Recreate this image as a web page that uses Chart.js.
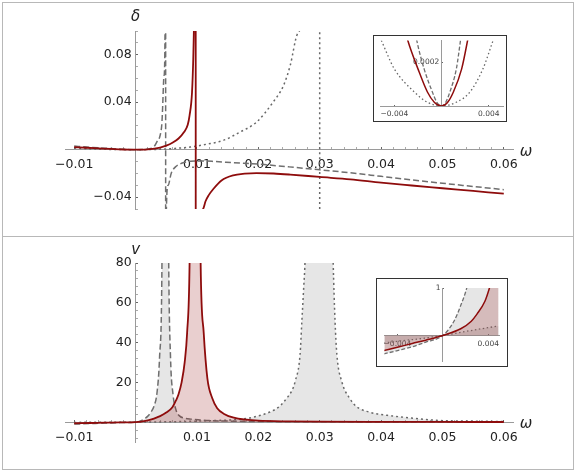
<!DOCTYPE html>
<html>
<head>
<meta charset="utf-8">
<script src="https://cdn.jsdelivr.net/npm/chart.js@4.4.1/dist/chart.umd.min.js"></script>
<style>
  body { margin: 0; background: #fff; }
  #frame { position: absolute; left: 2px; top: 2px; width: 570px; height: 466px; border: 1px solid #b8b8b8; }
  #divider { position: absolute; left: 2px; top: 236px; width: 572px; height: 0; border-top: 1px solid #b8b8b8; }
  .box { position: absolute; }
  .inset { position: absolute; background: #fff; border: 1px solid #333; }
</style>
</head>
<body>
<div id="frame"></div>
<div id="divider"></div>
<div class="box" style="left:3px;top:3px"><canvas id="deltaChart" width="570" height="233"></canvas></div>
<div class="box" style="left:3px;top:237px"><canvas id="nuChart" width="570" height="233"></canvas></div>
<div class="inset" style="left:373px;top:35px;width:132px;height:85px"><canvas id="deltaInset" width="132" height="85"></canvas></div>
<div class="inset" style="left:376px;top:278px;width:130px;height:87px"><canvas id="nuInset" width="130" height="87"></canvas></div>
<script>
// ---------- top panel: delta(omega) ----------
const omegaRedD   = [-0.01, -0.008, -0.006, -0.004, -0.002, 0, 0.002, 0.004, 0.005, 0.006, 0.007, 0.0079, 0.0085, 0.0088, 0.0092, 0.0094, 0.0095, 0.0096, 0.00979, 0.00981, 0.0106, 0.011, 0.0114, 0.0119, 0.0127, 0.014, 0.0159, 0.0178, 0.0197, 0.0225, 0.0252, 0.03, 0.035, 0.04, 0.045, 0.05, 0.055, 0.06];
const deltaRed    = [0.0022, 0.0016, 0.0011, 0.0006, 0.00015, 0, 0.0003, 0.0018, 0.0034, 0.0058, 0.0094, 0.0148, 0.021, 0.0289, 0.0485, 0.0766, 0.1, 0.2, 3, -3, -0.08, -0.05, -0.0435, -0.0385, -0.0329, -0.0259, -0.0216, -0.0202, -0.0197, -0.0201, -0.021, -0.023, -0.025, -0.0278, -0.0302, -0.0325, -0.0348, -0.0371];
const omegaDashD  = [-0.01, -0.008, -0.006, -0.004, -0.002, 0, 0.001, 0.002, 0.003, 0.00345, 0.004, 0.0043, 0.0044, 0.00464, 0.0048, 0.00489, 0.00491, 0.00502, 0.0053, 0.0058, 0.0065, 0.0075, 0.009, 0.011, 0.013, 0.016, 0.02, 0.025, 0.03, 0.035, 0.04, 0.045, 0.05, 0.055, 0.06];
const deltaDash   = [0.003, 0.0022, 0.0015, 0.001, 0.00027, 0, 0.0001, 0.0006, 0.0025, 0.0064, 0.012, 0.0232, 0.0345, 0.0626, 0.1, 3, -3, -0.05, -0.03, -0.02, -0.0145, -0.0115, -0.0098, -0.0095, -0.01, -0.011, -0.0122, -0.0145, -0.017, -0.0195, -0.0225, -0.0255, -0.0283, -0.031, -0.0337];
const omegaDotD   = [-0.01, -0.008, -0.006, -0.004, -0.002, 0, 0.002, 0.004, 0.006, 0.0089, 0.0115, 0.0143, 0.017, 0.0197, 0.0224, 0.0241, 0.0252, 0.0264, 0.0275, 0.02999, 0.03001];
const deltaDot    = [0.0013, 0.0008, 0.00045, 0.00018, 0.00005, 0, 0.00007, 0.0003, 0.0009, 0.0022, 0.0045, 0.0078, 0.0148, 0.0232, 0.04, 0.054, 0.071, 0.0977, 0.15, 3, -3];

// top inset (zoom near omega = 0)
const omegaRedDi  = [-0.0032, -0.00286, -0.002, -0.0012, -0.0006, 0, 0.0005, 0.001, 0.0017, 0.0022, 0.0024];
const deltaRedI   = [0.00037, 0.0003, 0.00017, 0.000064, 0.000016, 0, 0.000016, 0.000064, 0.00017, 0.0003, 0.00036];
const omegaDashDi = [-0.0023, -0.0021, -0.00148, -0.00078, -0.0004, 0, 0.00035, 0.0007, 0.00125, 0.0016, 0.0018];
const deltaDashI  = [0.00036, 0.0003, 0.00017, 0.000064, 0.000017, 0, 0.000017, 0.000064, 0.00017, 0.0003, 0.00038];
const omegaDotDi  = [-0.0051, -0.004, -0.0023, -0.0012, 0, 0.0012, 0.0024, 0.0035, 0.00436];
const deltaDotI   = [0.0003, 0.00017, 0.000064, 0.000017, 0, 0.000016, 0.000064, 0.00017, 0.0003];

// ---------- bottom panel: v(omega) ----------
const omegaRedV   = [-0.01, -0.0075, -0.005, -0.0025, 0, 0.002, 0.003, 0.004, 0.005, 0.006, 0.0066, 0.007, 0.0075, 0.008, 0.0084, 0.0088, 0.0097, 0.0106, 0.0111, 0.0117, 0.0125, 0.0133, 0.0145, 0.016, 0.018, 0.02, 0.025, 0.03, 0.04, 0.05, 0.06];
const nuRed       = [-0.6, -0.45, -0.3, -0.15, 0, 0.9, 1.8, 3, 4.8, 7.5, 11, 14, 20, 30, 45, 80, 400, 80, 45, 22, 12, 7, 4, 2.2, 1.2, 0.7, 0.35, 0.2, 0.1, 0.07, 0.05];
const omegaDashV  = [-0.01, -0.0075, -0.005, -0.0025, 0, 0.001, 0.002, 0.0025, 0.003, 0.0035, 0.0039, 0.0043, 0.0048, 0.0054, 0.0057, 0.0061, 0.0066, 0.0072, 0.008, 0.009, 0.0105, 0.012, 0.015, 0.02, 0.03, 0.04, 0.05, 0.06];
const nuDash      = [-1.0, -0.75, -0.5, -0.25, 0, 0.9, 3, 5, 8, 15, 32, 80, 400, 80, 32, 14, 6, 3, 2, 1.5, 1.1, 0.8, 0.5, 0.3, 0.15, 0.1, 0.07, 0.05];
const omegaDotV   = [-0.01, -0.005, 0, 0.005, 0.01, 0.0135, 0.0165, 0.0192, 0.0219, 0.0235, 0.0246, 0.0255, 0.026, 0.0268, 0.0271, 0.0274, 0.0276, 0.0299, 0.0322, 0.0325, 0.0328, 0.0336, 0.0349, 0.036, 0.038, 0.041, 0.0436, 0.049, 0.055, 0.06];
const nuDot       = [-0.15, -0.07, 0, 0.15, 0.5, 0.85, 1.3, 2.5, 5.1, 8, 11.9, 16, 20.4, 33.9, 50.9, 68, 80, 400, 80, 51, 34, 20.4, 11.9, 7.8, 5.1, 3.4, 2.5, 0.9, 0.5, 0.3];

// bottom inset (zoom near omega = 0)
const omegaRedVi  = [-0.0052, -0.004, -0.0027, -0.0015, 0, 0.00157, 0.0025, 0.003, 0.0037, 0.0041, 0.0049];
const nuRedI      = [-0.32, -0.25, -0.17, -0.1, 0, 0.14, 0.3, 0.45, 0.72, 1.0, 1.7];
const omegaDashVi = [-0.0052, -0.004, -0.0027, -0.0015, 0, 0.001, 0.0016, 0.0021, 0.003, 0.0049];
const nuDashI     = [-0.39, -0.32, -0.24, -0.14, 0, 0.31, 0.65, 1.0, 2, 5];
const omegaDotVi  = [-0.0052, -0.0035, -0.002, 0, 0.0024, 0.0049];
const nuDotI      = [-0.16, -0.11, -0.07, 0, 0.1, 0.2];

const RED = '#8e0c0c';
const DASH_GRAY = '#6f6f6f';
const DOT_GRAY = '#686868';
const RED_FILL = 'rgba(150,30,30,0.21)';
const GRAY_FILL = 'rgba(150,150,150,0.24)';
const FONT = 'DejaVu Sans';

const pts = (xs, ys) => xs.map((x, i) => ({x: x, y: ys[i]}));
const isMult = (v, step) => Math.abs(v / step - Math.round(v / step)) < 1e-6;
const fmt = (v, dec) => (v < 0 ? '\u2212' : '') + Math.abs(v).toFixed(dec);

// axis names: delta / v on top of the y axis, omega at the end of the x axis
const axisNames = {
    id: 'axisNames',
    afterDraw(chart, args, opts) {
        if (!opts.yName) return;
        const {ctx, chartArea, scales} = chart;
        const x0 = scales.x.getPixelForValue(0);
        const y0 = scales.y.getPixelForValue(0);
        ctx.save();
        ctx.font = 'italic 15px "' + FONT + '"';
        ctx.fillStyle = '#222';
        ctx.textAlign = 'center';
        ctx.textBaseline = 'middle';
        ctx.fillText(opts.yName, x0, chartArea.top - opts.yGap);
        ctx.fillText('\u03c9', chartArea.right + 13, y0 + 2);
        ctx.restore();
    }
};

function lineSet(data, kind, filled, thin) {
    const s = {
        data: data,
        showLine: true,
        pointRadius: 0,
        cubicInterpolationMode: 'monotone',
        fill: filled ? 'origin' : false,
        borderWidth: thin ? 1.5 : 1.8
    };
    if (kind === 'red') {
        s.borderColor = RED;
        s.backgroundColor = RED_FILL;
    } else if (kind === 'dash') {
        s.borderColor = DASH_GRAY;
        s.borderDash = thin ? [4, 2] : [6, 3];
        s.borderWidth = thin ? 1.3 : 1.5;
        s.backgroundColor = GRAY_FILL;
    } else {
        s.borderColor = DOT_GRAY;
        s.borderDash = thin ? [1.5, 2.5] : [2, 3];
        s.borderWidth = thin ? 1.3 : 1.5;
        s.backgroundColor = GRAY_FILL;
    }
    return s;
}

function axisOpts(cfg) {
    return {
        type: 'linear',
        min: cfg.min,
        max: cfg.max,
        position: cfg.position,
        border: {display: true, color: '#9a9a9a', width: 1},
        grid: {
            display: true,
            drawOnChartArea: false,
            drawTicks: true,
            tickLength: cfg.tickLength,
            tickColor: c => (cfg.isLabel(c.tick.value) ? '#666' : '#aaa')
        },
        ticks: {
            stepSize: cfg.step,
            autoSkip: false,
            includeBounds: false,
            maxRotation: 0,
            padding: cfg.padding || 0,
            color: cfg.color || '#222',
            font: {family: FONT, size: cfg.size},
            callback: v => (cfg.isLabel(v) && Math.abs(v) > 1e-12 ? cfg.format(v) : '')
        }
    };
}

function makeChart(id, datasets, xCfg, yCfg, pad, names) {
    return new Chart(document.getElementById(id), {
        type: 'scatter',
        data: {datasets: datasets},
        options: {
            responsive: false,
            animation: false,
            layout: {padding: pad},
            scales: {x: axisOpts(xCfg), y: axisOpts(yCfg)},
            plugins: {
                legend: {display: false},
                tooltip: {enabled: false},
                axisNames: names || {}
            }
        },
        plugins: [axisNames]
    });
}

const mainX = {
    min: -0.0115, max: 0.0615, position: {y: 0}, step: 0.002, tickLength: -3, padding: 11, size: 12.5,
    isLabel: v => isMult(v, 0.01), format: v => fmt(v, 2)
};

// top panel
makeChart('deltaChart', [
    lineSet(pts(omegaRedD, deltaRed), 'red', false),
    lineSet(pts(omegaDashD, deltaDash), 'dash', false),
    lineSet(pts(omegaDotD, deltaDot), 'dot', false)
], mainX, {
    min: -0.05, max: 0.1, position: {x: 0}, step: 0.01, tickLength: -3, size: 12.5,
    isLabel: v => isMult(v, 0.04), format: v => fmt(v, 2) + ' '
}, {left: 62, right: 60, top: 28, bottom: 27}, {yName: '\u03b4', yGap: 14});

// bottom panel
makeChart('nuChart', [
    lineSet(pts(omegaRedV, nuRed), 'red', true),
    lineSet(pts(omegaDashV, nuDash), 'dash', true),
    lineSet(pts(omegaDotV, nuDot), 'dot', true)
], mainX, {
    min: -10, max: 80, position: {x: 0}, step: 4, tickLength: -3, size: 12.5,
    isLabel: v => isMult(v, 20), format: v => fmt(v, 0) + ' '
}, {left: 62, right: 60, top: 26, bottom: 28}, {yName: 'v', yGap: 13});

// insets
const insetX = {
    min: -0.0052, max: 0.0052, position: {y: 0}, step: 0.004, tickLength: -2, padding: 6, size: 7.5, color: '#444',
    isLabel: v => isMult(v, 0.004), format: v => fmt(v, 3)
};

makeChart('deltaInset', [
    lineSet(pts(omegaRedDi, deltaRedI), 'red', false, true),
    lineSet(pts(omegaDashDi, deltaDashI), 'dash', false, true),
    lineSet(pts(omegaDotDi, deltaDotI), 'dot', false, true)
], insetX, {
    min: 0, max: 0.0003, position: {x: 0}, step: 0.0002, tickLength: -2, size: 7.5, color: '#444',
    isLabel: v => isMult(v, 0.0002), format: v => fmt(v, 4) + ' '
}, {left: 4, right: 3, top: 4, bottom: 15});

makeChart('nuInset', [
    lineSet(pts(omegaRedVi, nuRedI), 'red', true, true),
    lineSet(pts(omegaDashVi, nuDashI), 'dash', true, true),
    lineSet(pts(omegaDotVi, nuDotI), 'dot', true, true)
], Object.assign({}, insetX, {min: -0.00515, max: 0.00494}), {
    min: -0.55, max: 1, position: {x: 0}, step: 1, tickLength: -2, size: 7.5, color: '#444',
    isLabel: v => isMult(v, 1), format: v => fmt(v, 0) + ' '
}, {left: 5, right: 8, top: 9, bottom: 3});
</script>
</body>
</html>
